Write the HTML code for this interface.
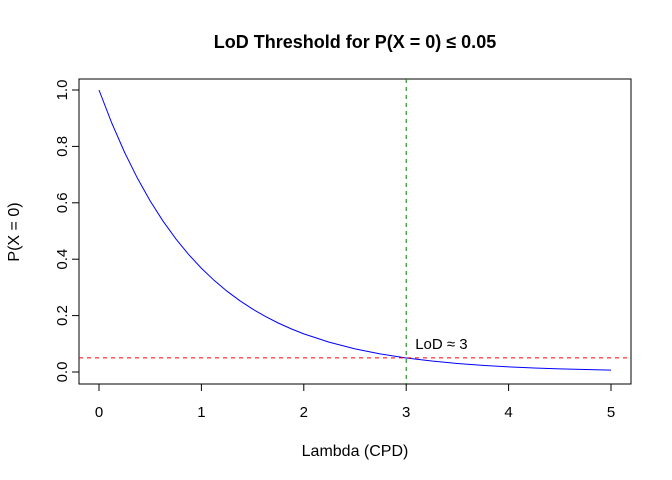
<!DOCTYPE html>
<html><head><meta charset="utf-8"><style>
body{margin:0;background:#fff}
svg{display:block;font-family:"Liberation Sans",Arial,sans-serif}
</style></head><body>
<svg id="chart" width="672" height="480" viewBox="0 0 672 480">
<text x="355" y="48" text-anchor="middle" font-size="18" font-weight="bold">LoD Threshold for P(X = 0) ≤ 0.05</text>
<rect x="79" y="79" width="552" height="305" fill="none" stroke="#000"/>
<g id="xaxis"></g>
<g id="yaxis"></g>
<text x="355" y="456" text-anchor="middle" font-size="16">Lambda (CPD)</text>
<text transform="translate(19,232) rotate(-90)" text-anchor="middle" font-size="16">P(X = 0)</text>
<g id="marks"></g>
</svg>
<script>
const lambdas=[0,0.125,0.25,0.375,0.5,0.625,0.75,0.875,1,1.125,1.25,1.375,1.5,1.625,1.75,1.875,2,2.25,2.5,2.75,3,3.25,3.5,3.75,4,4.25,4.5,4.75,5];
const probs=[1,0.8825,0.7788,0.6873,0.6065,0.5353,0.4724,0.4169,0.3679,0.3247,0.2865,0.2528,0.2231,0.1969,0.1738,0.1534,0.1353,0.1054,0.0821,0.0639,0.0498,0.0388,0.0302,0.0235,0.0183,0.0143,0.0111,0.0087,0.0067];
const xTicks=[0,1,2,3,4,5];
const yTicks=[0,0.2,0.4,0.6,0.8,1.0];
const yTickLabels=["0.0","0.2","0.4","0.6","0.8","1.0"];
const threshold=0.05;
const lod=3;
const lodLabel="LoD ≈ 3";
const NS="http://www.w3.org/2000/svg";
const xs=v=>99+v*102.4;
const ys=v=>372-v*282;
function mk(tag,attrs,parent){const e=document.createElementNS(NS,tag);for(const k in attrs)e.setAttribute(k,attrs[k]);parent.appendChild(e);return e;}
const xa=document.getElementById('xaxis'),ya=document.getElementById('yaxis'),m=document.getElementById('marks');
mk('line',{x1:xs(xTicks[0]),x2:xs(xTicks[xTicks.length-1]),y1:384,y2:384,stroke:'#000'},xa);
xTicks.forEach(t=>{
 const l=mk('line',{x1:xs(t),x2:xs(t),y1:384,y2:391,stroke:'#000'},xa);
 
 
 const tx=mk('text',{x:xs(t),y:417,'text-anchor':'middle','font-size':15},xa);
 tx.textContent=t;
 
 
});
mk('line',{x1:79,x2:79,y1:ys(yTicks[0]),y2:ys(yTicks[yTicks.length-1]),stroke:'#000'},ya);
yTicks.forEach((t,i)=>{
 const l=mk('line',{x1:72,x2:79,y1:ys(t),y2:ys(t),stroke:'#000'},ya);
 
 
 const tx=mk('text',{transform:`translate(67,${ys(t)}) rotate(-90)`,'text-anchor':'middle','font-size':15},ya);
 tx.textContent=yTickLabels[i];
 
 
});
const c=mk('polyline',{points:lambdas.map((x,i)=>xs(x)+','+ys(probs[i])).join(' '),fill:'none',stroke:'#0000ff','stroke-width':1},m);


const h=mk('line',{x1:79,x2:631,y1:ys(threshold),y2:ys(threshold),stroke:'#ff0000','stroke-dasharray':'4,4'},m);


const v=mk('line',{x1:xs(lod),x2:xs(lod),y1:79,y2:384,stroke:'#008000','stroke-dasharray':'4,4'},m);


const lt=mk('text',{x:xs(lod)+9,y:ys(threshold)-9,'font-size':15},m);
lt.textContent=lodLabel;


</script>
</body></html>
